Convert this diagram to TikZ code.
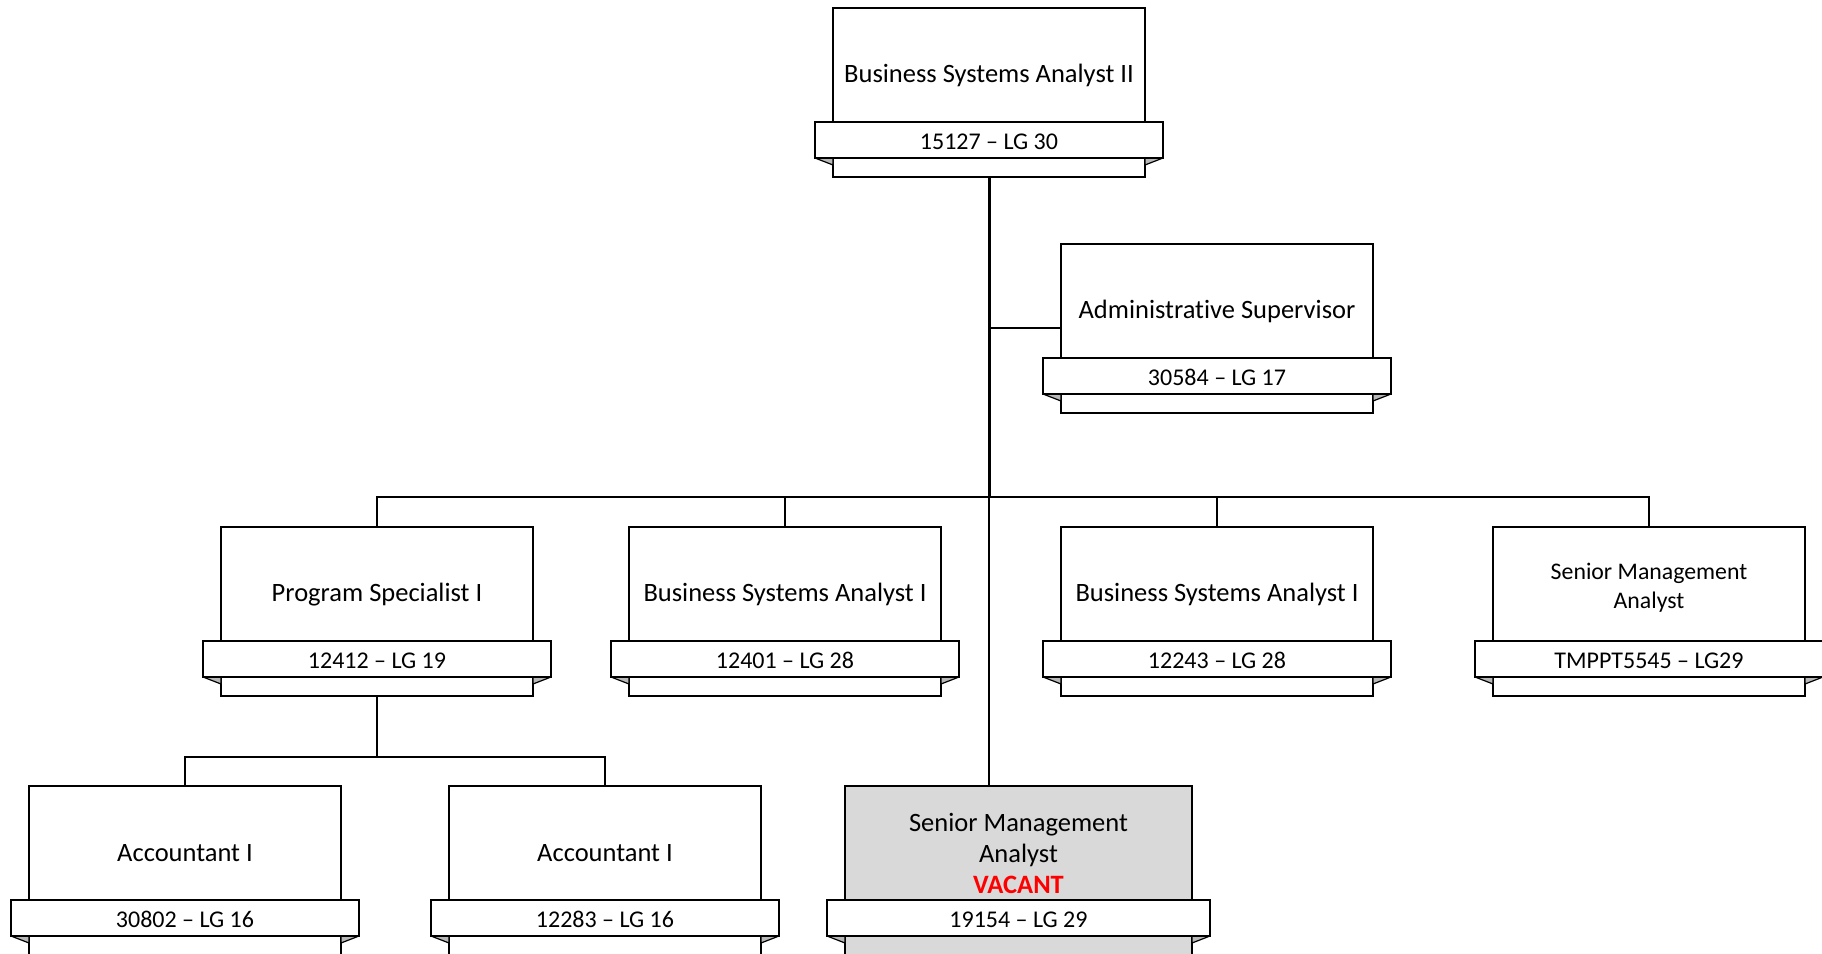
\documentclass[tikz,border=0pt]{standalone}
\usepackage{fontspec}
\setmainfont{Carlito}[Ligatures={NoCommon,NoContextual,NoRare}]
\begin{document}
\begin{tikzpicture}[x=1pt,y=-1pt,
  boxshape/.style={draw=black,line width=1.8pt,fill=white,minimum height=169pt,inner sep=0pt,anchor=north},
  bandshape/.style={draw=black,line width=1.8pt,fill=white,minimum height=36pt,inner sep=0pt,text height=19pt,text depth=0pt,font=\fontsize{24}{28}\selectfont},
  titletext/.style={align=center,inner sep=0pt,font=\fontsize{26.5}{31}\selectfont},
  fold/.style={draw=black,line width=1.2pt,fill=black!28,line join=round},
  conn/.style={draw=black,line width=2pt},
  trunk/.style={draw=black,line width=3pt}]
\useasboundingbox (0,0) rectangle (1822,953);
\begin{scope}
\clip (0,0) rectangle (1822,953);
% #1 name, #2 cx, #3 top, #4 half width, #5 fill, #6 title, #7 code
\newcommand\posbox[7]{%
  \node[boxshape,fill=#5,minimum width=2*#4 pt] (#1) at (#2,#3) {};
  \draw[fold] (#2-#4-18,#3+151) -- (#2-#4,#3+151) -- (#2-#4,#3+158) -- cycle;
  \draw[fold] (#2+#4+18,#3+151) -- (#2+#4,#3+151) -- (#2+#4,#3+158) -- cycle;
  \node[bandshape,minimum width=2*#4 pt+36pt] (#1b) at (#2,#3+133) {#7};
  \node[titletext] (#1t) at (#2,#3+68.5) {#6};
}
% connectors
\coordinate (j1) at (989,497);
\coordinate (j2) at (377,756.5);
\posbox{top}{989}{7}{156}{white}{Business Systems Analyst II}{15127 – LG 30}
\posbox{adm}{1217}{243}{156}{white}{Administrative Supervisor}{30584 – LG 17}
\posbox{ps}{377}{526}{156}{white}{Program Specialist I}{12412 – LG 19}
\posbox{bsa}{785}{526}{156}{white}{Business Systems Analyst I}{12401 – LG 28}
\posbox{bsb}{1217}{526}{156}{white}{Business Systems Analyst I}{12243 – LG 28}
\posbox{sma}{1649}{526}{156}{white}{}{TMPPT5545 – LG29}
\node[titletext,font=\fontsize{23.8}{29}\selectfont] (smat) at (1649,588) {Senior Management\\Analyst};
\posbox{acca}{185}{785}{156}{white}{Accountant I}{30802 – LG 16}
\posbox{accb}{605}{785}{156}{white}{Accountant I}{12283 – LG 16}
\posbox{vac}{1018.5}{785}{173.5}{black!15}{}{19154 – LG 29}
\node[titletext] (vact) at (1018.5,853) {Senior Management\\Analyst\\\textcolor{red}{\textbf{VACANT}}};
% lines
\draw[trunk] (top.south) -- (j1);
\draw[conn] (adm.west) -- (adm.west -| j1);
\draw[conn] (j1) -- (989,785);
\draw[conn] (ps.north) |- (j1);
\draw[conn] (bsa.north) |- (j1);
\draw[conn] (bsb.north) |- (j1);
\draw[conn] (sma.north) |- (j1);
\draw[conn] (ps.south) -- (j2);
\draw[conn] (acca.north) |- (j2);
\draw[conn] (accb.north) |- (j2);
\end{scope}
\end{tikzpicture}
\end{document}
